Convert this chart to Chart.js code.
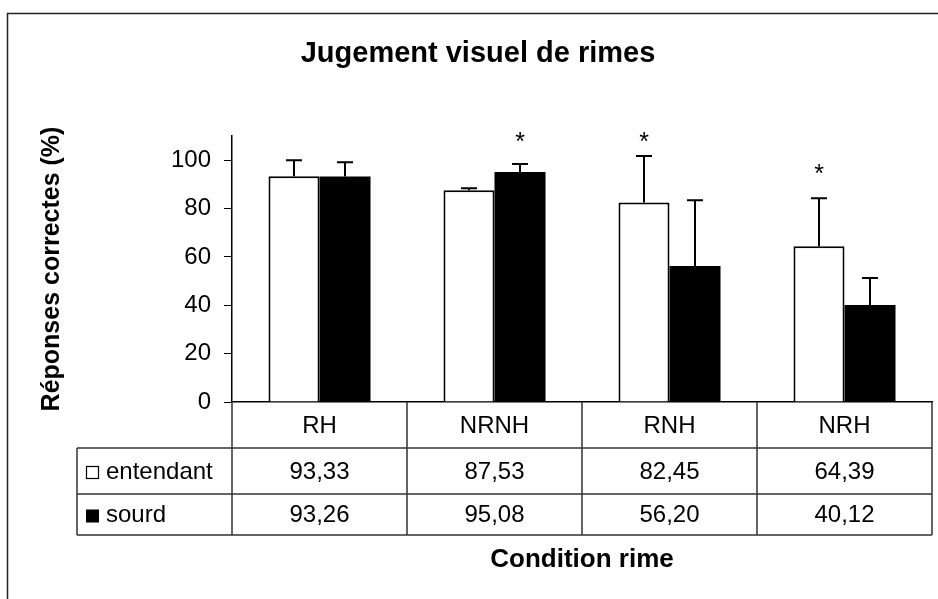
<!DOCTYPE html>
<html>
<head>
<meta charset="utf-8">
<script src="https://cdn.jsdelivr.net/npm/chart.js@4"></script>
<style>
    html, body { margin: 0; padding: 0; background: #fff; }
    #wrap { width: 938px; height: 599px; }
</style>
</head>
<body>
<div id="wrap"><canvas id="rimesChart" width="938" height="599"></canvas></div>
<script>
// Données
const conditions = ['RH', 'NRNH', 'RNH', 'NRH'];
const entendant = [93.33, 87.53, 82.45, 64.39];
const sourd = [93.26, 95.08, 56.20, 40.12];
// écarts-types (barres d'erreur, partie haute seulement)
const sdEntendant = [6.6, 0.9, 19.3, 19.9];
const sdSourd = [5.9, 3.3, 27.2, 11.2];
// niveau des astérisques (null = pas de différence significative)
const etoileEntendant = [null, null, 109.6, 96.2];
const etoileSourd = [null, 109.6, null, null];
const yTicks = [0, 20, 40, 60, 80, 100];

const police = '"Liberation Sans", Arial, sans-serif';

function fmt(v) {
    return v.toFixed(2).replace('.', ',');
}

// Cadre, titre, barres d'erreur, astérisques et tableau de données
const extras = {
    id: 'extras',
    afterDatasetsDraw(chart) {
        const ctx = chart.ctx;
        const y = chart.scales.y;
        const sds = [sdEntendant, sdSourd];
        const stars = [etoileEntendant, etoileSourd];
        ctx.save();
        ctx.strokeStyle = '#000';
        ctx.lineWidth = 2;
        chart.data.datasets.forEach((ds, i) => {
            const meta = chart.getDatasetMeta(i);
            meta.data.forEach((bar, j) => {
                const top = y.getPixelForValue(ds.data[j] + sds[i][j]);
                ctx.beginPath();
                ctx.moveTo(bar.x, bar.y);
                ctx.lineTo(bar.x, top);
                ctx.moveTo(bar.x - 8, top);
                ctx.lineTo(bar.x + 8, top);
                ctx.stroke();
                if (stars[i][j] !== null) {
                    ctx.font = '25px ' + police;
                    ctx.fillStyle = '#000';
                    ctx.textAlign = 'center';
                    ctx.textBaseline = 'alphabetic';
                    const m = ctx.measureText('*');
                    const cy = y.getPixelForValue(stars[i][j]);
                    ctx.fillText('*', bar.x, cy + (m.actualBoundingBoxAscent - m.actualBoundingBoxDescent) / 2);
                }
            });
        });
        ctx.restore();
    },
    afterDraw(chart) {
        const ctx = chart.ctx;
        const x = chart.scales.x;
        const area = chart.chartArea;
        ctx.save();

        // cadre extérieur
        ctx.strokeStyle = '#222';
        ctx.lineWidth = 1.5;
        ctx.beginPath();
        ctx.moveTo(7.5, 599);
        ctx.lineTo(7.5, 13.5);
        ctx.lineTo(938, 13.5);
        ctx.stroke();

        // titre
        ctx.fillStyle = '#000';
        ctx.font = 'bold 29px ' + police;
        ctx.textAlign = 'center';
        ctx.textBaseline = 'middle';
        ctx.fillText('Jugement visuel de rimes', 478, 54);

        // tableau de données
        const top = area.bottom;
        const r1 = top + 46, r2 = r1 + 46, r3 = r2 + 41;
        const legLeft = 77;
        const step = (x.right - x.left) / conditions.length;
        ctx.strokeStyle = '#333';
        ctx.lineWidth = 1.5;
        ctx.beginPath();
        for (let i = 0; i <= conditions.length; i++) {
            const cx = x.left + i * step;
            ctx.moveTo(cx, top);
            ctx.lineTo(cx, r3);
        }
        ctx.moveTo(legLeft, r1);
        ctx.lineTo(legLeft, r3);
        [r1, r2, r3].forEach(ry => {
            ctx.moveTo(legLeft, ry);
            ctx.lineTo(x.right, ry);
        });
        ctx.stroke();

        ctx.font = '24px ' + police;
        ctx.textAlign = 'center';
        ctx.textBaseline = 'middle';
        conditions.forEach((c, i) => {
            const cx = x.getPixelForValue(i);
            ctx.fillText(c, cx, (top + r1) / 2 + 1);
            ctx.fillText(fmt(entendant[i]), cx, (r1 + r2) / 2 + 1);
            ctx.fillText(fmt(sourd[i]), cx, (r2 + r3) / 2 + 1);
        });

        // légende dans le tableau
        ctx.textAlign = 'left';
        ctx.lineWidth = 1.2;
        ctx.strokeStyle = '#000';
        ctx.strokeRect(86.5, (r1 + r2) / 2 - 4.5, 12, 12);
        ctx.fillText('entendant', 106, (r1 + r2) / 2 + 1);
        ctx.fillRect(86, (r2 + r3) / 2 - 5, 13, 13);
        ctx.fillText('sourd', 106, (r2 + r3) / 2 + 1);
        ctx.restore();
    }
};

const ctx = document.getElementById('rimesChart').getContext('2d');
const rimesChart = new Chart(ctx, {
    type: 'bar',
    data: {
        labels: conditions,
        datasets: [{
            label: 'entendant',
            data: entendant,
            backgroundColor: '#fff',
            borderColor: '#000',
            borderWidth: 2
        }, {
            label: 'sourd',
            data: sourd,
            backgroundColor: '#000',
            borderColor: '#000',
            borderWidth: 0
        }]
    },
    options: {
        responsive: false,
        animation: false,
        layout: { padding: { top: 136, right: 6, left: 0, bottom: 0 } },
        datasets: {
            bar: { categoryPercentage: 0.583, barPercentage: 1.0 }
        },
        plugins: {
            legend: { display: false },
            title: { display: false },
            tooltip: { enabled: false }
        },
        scales: {
            x: {
                grid: { display: false },
                border: { display: true, color: '#000', width: 1.5 },
                ticks: { display: false },
                title: {
                    display: true,
                    text: 'Condition rime',
                    color: '#000',
                    font: { family: police, size: 26, weight: 'bold' },
                    padding: { top: 0, bottom: 24 }
                },
                afterFit(scale) { scale.height = 197; }
            },
            y: {
                min: 0,
                max: 110,
                afterBuildTicks(scale) {
                    scale.ticks = yTicks.map(v => ({ value: v }));
                },
                ticks: {
                    color: '#000',
                    padding: 13,
                    font: { family: police, size: 24 }
                },
                grid: {
                    drawOnChartArea: false,
                    drawTicks: true,
                    tickLength: 8,
                    tickColor: '#000'
                },
                border: { display: true, color: '#000', width: 1.5 },
                title: {
                    display: true,
                    text: 'Réponses correctes (%)',
                    color: '#000',
                    font: { family: police, size: 25, weight: 'bold' },
                    padding: { top: 37, bottom: 0 }
                },
                afterFit(scale) { scale.width = 232; }
            }
        }
    },
    plugins: [extras]
});
</script>
</body>
</html>
